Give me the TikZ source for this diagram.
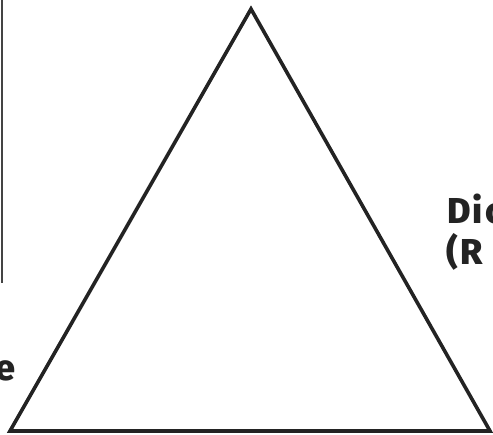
\documentclass[tikz,border=0pt]{standalone}
\usepackage{fontspec}
\setmainfont{Fira Sans}[BoldFont={Fira Sans ExtraBold}]
\definecolor{inkline}{HTML}{232323}
\tikzset{
  side/.style={inkline, line width=3.6pt, line join=miter},
  lbl/.style={inkline, font=\fontsize{36}{42}\selectfont\bfseries\addfontfeature{LetterSpace=6}, inner sep=0pt}
}
\begin{document}
\begin{tikzpicture}[x=1pt,y=-1pt]
	\useasboundingbox (0,0) rectangle (493,435);
	\clip (0,0) rectangle (493,435);

	% corners of the triangle
	\coordinate (top) at (251,9);
	\coordinate (baseL) at (10,431);
	\coordinate (baseR) at (490,431);
	\draw[side] (top) -- (baseR) -- (baseL) -- cycle;

	% frame edge on the left
	\coordinate (frameT) at (2,-2);
	\coordinate (frameB) at (2,283);
	\draw[inkline!85, line width=2pt] (frameT) -- (frameB);

	\node[lbl, anchor=base west] (rightA) at (447,224) {Dic};
	\node[lbl, anchor=base west] (rightB) at (446,265) {(R};
	\node[lbl, anchor=base east] (leftA) at (16,381) {e};

\end{tikzpicture}
\end{document}
